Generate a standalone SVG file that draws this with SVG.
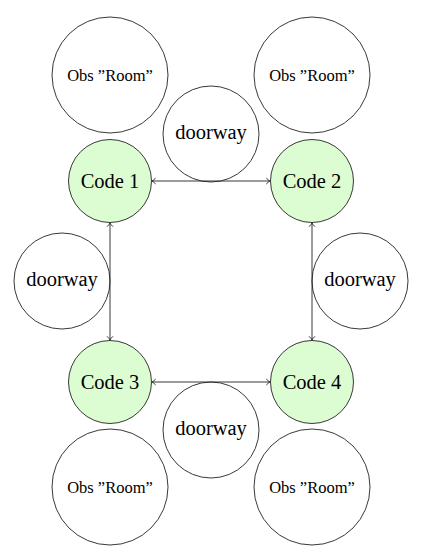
<svg xmlns="http://www.w3.org/2000/svg" width="422" height="555" viewBox="0 0 422 555">
<style>
circle{stroke:#222;stroke-width:0.9}
.obs{fill:#fff}
.door{fill:#fff}
.code{fill:#dcfdd2}
text{font-family:"Liberation Serif","DejaVu Serif",serif;fill:#000;text-anchor:middle;dominant-baseline:central}
.big{font-size:20.5px}
.small{font-size:16.5px}
.edge{stroke:#222;stroke-width:0.9;fill:none;marker-start:url(#ah);marker-end:url(#ah)}
</style>
<defs>
<marker id="ah" viewBox="-4 -4 8 8" markerWidth="8" markerHeight="8" refX="0" refY="0" orient="auto-start-reverse" markerUnits="userSpaceOnUse">
<path d="M-3.2,-3 Q-1,-0.6 0.6,0 Q-1,0.6 -3.2,3" fill="none" stroke="#222" stroke-width="0.9"/>
</marker>
</defs>
<g id="obs1"><circle class="obs" cx="110" cy="75" r="58"/><text class="small" x="110" y="75">Obs ”Room”</text></g>
<g id="obs2"><circle class="obs" cx="312" cy="75" r="58"/><text class="small" x="312" y="75">Obs ”Room”</text></g>
<g id="obs3"><circle class="obs" cx="110" cy="487" r="58"/><text class="small" x="110" y="487">Obs ”Room”</text></g>
<g id="obs4"><circle class="obs" cx="312" cy="487" r="58"/><text class="small" x="312" y="487">Obs ”Room”</text></g>
<g id="door_top"><circle class="door" cx="211" cy="134" r="48"/><text class="big" x="211" y="132">doorway</text></g>
<g id="door_left"><circle class="door" cx="62" cy="281" r="48"/><text class="big" x="62" y="279">doorway</text></g>
<g id="door_right"><circle class="door" cx="360" cy="281" r="48"/><text class="big" x="360" y="279">doorway</text></g>
<g id="door_bottom"><circle class="door" cx="211" cy="430" r="48"/><text class="big" x="211" y="428">doorway</text></g>
<g id="code1"><circle class="code" cx="110" cy="181" r="41.5"/><text class="big" x="110" y="181">Code 1</text></g>
<g id="code2"><circle class="code" cx="312" cy="181" r="41.5"/><text class="big" x="312" y="181">Code 2</text></g>
<g id="code3"><circle class="code" cx="110" cy="382" r="41.5"/><text class="big" x="110" y="382">Code 3</text></g>
<g id="code4"><circle class="code" cx="312" cy="382" r="41.5"/><text class="big" x="312" y="382">Code 4</text></g>
<g id="connectors">
<line class="edge" x1="152.5" y1="181" x2="269.5" y2="181"/>
<line class="edge" x1="110" y1="223.5" x2="110" y2="339.5"/>
<line class="edge" x1="312" y1="223.5" x2="312" y2="339.5"/>
<line class="edge" x1="152.5" y1="382" x2="269.5" y2="382"/>
</g>
</svg>
